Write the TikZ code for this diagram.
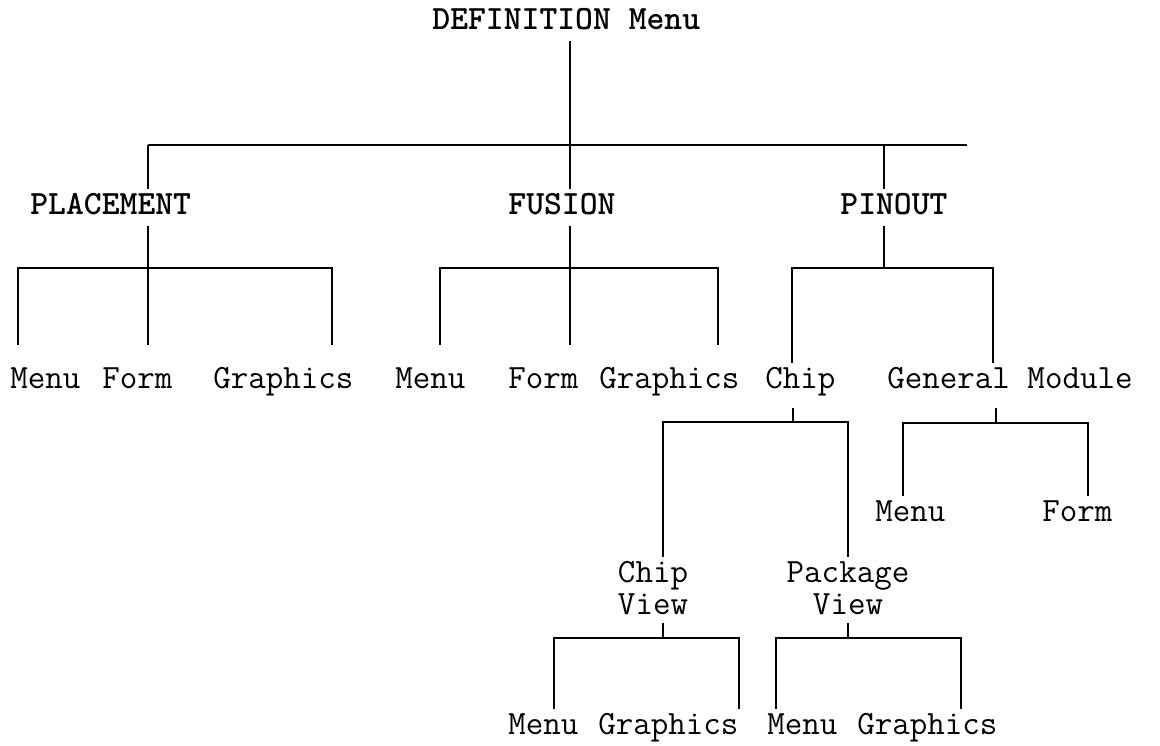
\documentclass[tikz,border=0pt]{standalone}
\usepackage{fontspec}
\usepackage{tikz}
\usetikzlibrary{positioning, calc}

\begin{document}
\begin{tikzpicture}[
    x=0.5pt, y=-0.5pt,
    lbl/.style={font=\ttfamily\fontsize{17}{15}\selectfont, inner sep=2pt,
                text height=10.5pt, text depth=3.7pt, anchor=base west},
    head/.style={lbl, font=\ttfamily\bfseries\fontsize{17}{15}\selectfont},
    lbltwo/.style={font=\ttfamily\fontsize{17}{16}\selectfont, inner sep=2pt,
                   align=center, anchor=north},
    wire/.style={line width=0.9pt},
]
    \useasboundingbox (0,0) rectangle (1160,745);

    \node[head] (root) at (428,29) {DEFINITION Menu};
    \node[head] (placement) at (26,214) {PLACEMENT};
    \node[head] (fusion) at (504,214) {FUSION};
    \node[head] (pinout) at (836,214) {PINOUT};

    \node[lbl] (pmenu) at (6,388) {Menu};
    \node[lbl] (pform) at (98,388) {Form};
    \node[lbl] (pgraphics) at (209,388) {Graphics};
    \node[lbl] (fmenu) at (391,388) {Menu};
    \node[lbl] (fform) at (504,388) {Form};
    \node[lbl] (fgraphics) at (595,388) {Graphics};
    \node[lbl] (chip) at (761,388) {Chip};
    \node[lbl] (general) at (883,388) {General Module};

    \node[lbl] (gmenu) at (871,521) {Menu};
    \node[lbl] (gform) at (1038,521) {Form};
    \node[lbltwo] (chipview) at (653,557) {Chip\\View};
    \node[lbltwo] (pkgview) at (848,557) {Package\\View};

    \node[lbl] (cvmenu) at (504,734) {Menu};
    \node[lbl] (cvgraphics) at (594,734) {Graphics};
    \node[lbl] (pvmenu) at (763,734) {Menu};
    \node[lbl] (pvgraphics) at (853,734) {Graphics};

    \coordinate (top-l) at (148,145);
    \coordinate (top-m) at (570,145);
    \coordinate (top-p) at (884,145);
    \coordinate (top-r) at (967,145);
    \draw[wire] (top-l) -- (top-r);
    \draw[wire] (root.south -| top-m) -- (fusion.north -| top-m);
    \draw[wire] (top-l) -- (placement.north -| top-l);
    \draw[wire] (top-p) -- (pinout.north -| top-p);

    \coordinate (pl-l) at (18,268);
    \coordinate (pl-m) at (148,268);
    \coordinate (pl-r) at (332,268);
    \draw[wire, shorten >=9pt] (placement.south -| pl-m) -- (pform.north -| pl-m);
    \draw[wire, shorten <=9pt, shorten >=9pt]
        (pmenu.north -| pl-l) -- (pl-l) -- (pl-r) -- (pgraphics.north -| pl-r);

    \coordinate (fu-l) at (440,268);
    \coordinate (fu-m) at (570,268);
    \coordinate (fu-r) at (718,268);
    \draw[wire, shorten >=9pt] (fusion.south -| fu-m) -- (fform.north -| fu-m);
    \draw[wire, shorten <=9pt, shorten >=9pt]
        (fmenu.north -| fu-l) -- (fu-l) -- (fu-r) -- (fgraphics.north -| fu-r);

    \coordinate (pi-l) at (792,268);
    \coordinate (pi-m) at (884,268);
    \coordinate (pi-r) at (993,268);
    \draw[wire] (pinout.south -| pi-m) -- (pi-m);
    \draw[wire] (chip.north -| pi-l) -- (pi-l) -- (pi-r) -- (general.north -| pi-r);

    \coordinate (ch-l) at (663,422);
    \coordinate (ch-m) at (793,422);
    \coordinate (ch-r) at (848,422);
    \draw[wire, shorten <=4pt] (chip.south -| ch-m) -- (ch-m);
    \draw[wire] (chipview.north -| ch-l) -- (ch-l) -- (ch-r) -- (pkgview.north -| ch-r);

    \coordinate (ge-l) at (903,423);
    \coordinate (ge-m) at (996,423);
    \coordinate (ge-r) at (1088,423);
    \draw[wire, shorten <=4pt] (general.south -| ge-m) -- (ge-m);
    \draw[wire] (gmenu.north -| ge-l) -- (ge-l) -- (ge-r) -- (gform.north -| ge-r);

    \coordinate (cv-l) at (554,638);
    \coordinate (cv-m) at (663,638);
    \coordinate (cv-r) at (739,638);
    \draw[wire, shorten <=2pt] (chipview.south -| cv-m) -- (cv-m);
    \draw[wire] (cvmenu.north -| cv-l) -- (cv-l) -- (cv-r) -- (cvgraphics.north -| cv-r);

    \coordinate (pv-l) at (776,638);
    \coordinate (pv-m) at (848,638);
    \coordinate (pv-r) at (961,638);
    \draw[wire, shorten <=2pt] (pkgview.south -| pv-m) -- (pv-m);
    \draw[wire] (pvmenu.north -| pv-l) -- (pv-l) -- (pv-r) -- (pvgraphics.north -| pv-r);
\end{tikzpicture}
\end{document}
